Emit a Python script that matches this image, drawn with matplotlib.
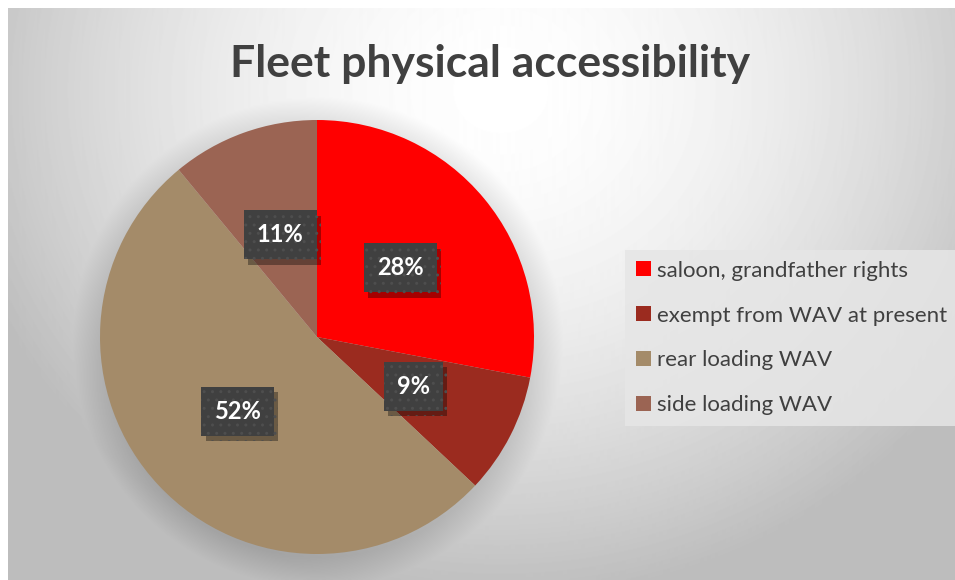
import numpy as np
import matplotlib.pyplot as plt
import matplotlib.patheffects as pe

categories = ['saloon, grandfather rights', 'exempt from WAV at present',
              'rear loading WAV', 'side loading WAV']
shares = [28, 9, 52, 11]
colors = ['#FF0000', '#9B2B1F', '#A48B69', '#9B6453']
title = 'Fleet physical accessibility'

W, H = 955, 580
fig = plt.figure(figsize=(W / 100, H / 100), dpi=100)
ax = fig.add_axes([0, 0, 1, 1])

# background: light radial gradient plus a soft shadow round the pie
yy, xx = np.mgrid[8:H, 8:W]
d = np.hypot(xx - 500, (yy - 90) * 1.1)
bg = 1 - 0.26 * np.clip(d / 560, 0, 1) ** 1.7
dp = np.hypot(xx - 317, yy - 342)
bg = bg - 0.10 * np.clip((245 - dp) / 30, 0, 1)
ax.imshow(bg, cmap='gray', vmin=0, vmax=1, extent=(8, W, 0, H - 8),
          origin='upper', aspect='auto', zorder=0)

wedges, texts, autotexts = ax.pie(
    shares, colors=colors, startangle=90, counterclock=False,
    center=(317, 243), radius=217, autopct='%.0f%%', pctdistance=0.5,
    wedgeprops=dict(linewidth=0),
    textprops=dict(color='white', fontsize=17, fontweight='bold', family='Lato'))

for t in autotexts:
    t.set_bbox(dict(boxstyle='square,pad=0.55', facecolor='#404040',
                    edgecolor='#4e4e4e', linewidth=0, hatch='..'))
    t.get_bbox_patch().set_path_effects(
        [pe.SimplePatchShadow(offset=(3, -4), shadow_rgbFace='#000000', alpha=0.35),
         pe.Normal()])

ax.text(490, H - 77, title, ha='center', va='baseline', fontsize=32,
        fontweight='bold', color='#404040', family='Lato')

leg = fig.legend(wedges, categories, loc='center left',
                 bbox_to_anchor=(625 / W, 1 - 338 / H), frameon=True,
                 fancybox=False, prop=dict(family='Lato', size=16),
                 labelcolor='#404040', handlelength=0.65, handleheight=0.65,
                 handletextpad=0.3, labelspacing=1.12, borderpad=0.5,
                 borderaxespad=0)
frame = leg.get_frame()
frame.set_facecolor('#E6E6E6')
frame.set_edgecolor('none')
frame.set_alpha(0.85)

ax.set_xlim(0, W)
ax.set_ylim(0, H)
ax.set_aspect('equal')
ax.axis('off')

fig.savefig('out.png', dpi=100, facecolor='white')
